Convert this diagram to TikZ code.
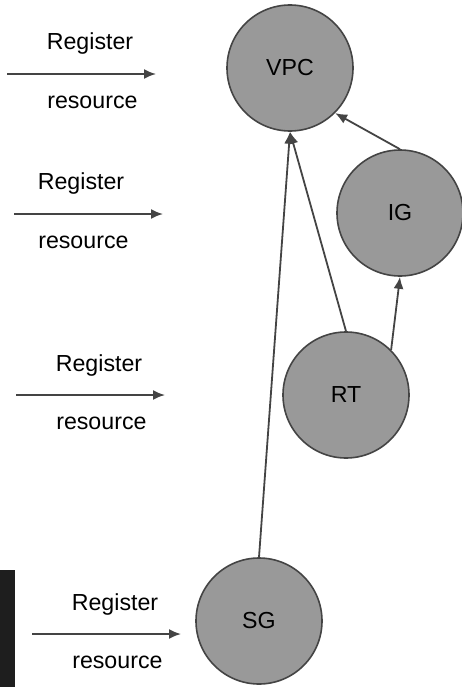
\documentclass[tikz,border=0pt]{standalone}
\usepackage{fontspec}
\setmainfont{Liberation Sans}
\usetikzlibrary{arrows.meta}
\definecolor{circfill}{HTML}{999999}
\definecolor{edgegray}{HTML}{444444}
\definecolor{panel}{HTML}{1E1E1E}
\tikzset{
    res/.style={circle,draw=edgegray,fill=circfill,line width=0.08cm,
        minimum size=6.3cm,inner sep=0pt,font=\fontsize{33}{40}\selectfont},
    lbl/.style={font=\fontsize{33}{40}\selectfont,inner sep=0pt},
    link/.style={draw=edgegray,line width=0.09cm,-{Latex[length=0.6cm,width=0.5cm]}}
}
\begin{document}
\begin{tikzpicture}
    \useasboundingbox (0,0) rectangle (23.1,-34.35);
    \fill[panel] (0,-28.5) rectangle (0.75,-34.35);
    \node[res] (vpc) at (14.5,-3.4) {VPC};
    \node[res] (ig) at (20,-10.65) {IG};
    \node[res] (rt) at (17.3,-19.75) {RT};
    \node[res] (sg) at (12.95,-31.05) {SG};
    \draw[link] (sg.north) -- (vpc.south);
    \draw[link] (rt.north) -- (vpc.south);
    \draw[link] (rt.45) -- (ig.south);
    \draw[link] (ig.north) -- (vpc.-45);
    \foreach \i/\x/\y/\t in {1/0.35/-3.7/4.5,2/0.7/-10.7/4.05,3/0.8/-19.75/4.95,4/1.6/-31.7/5.75} {
        \coordinate (in\i) at (\x,\y);
        \coordinate (out\i) at (\x+7.45,\y);
        \draw[link] (in\i) -- (out\i);
        \node[lbl] (reg\i) at (\t,\y+1.5) {Register};
        \node[lbl] (res\i) at (\t+0.12,\y-1.4) {resource};
    }
\end{tikzpicture}
\end{document}
